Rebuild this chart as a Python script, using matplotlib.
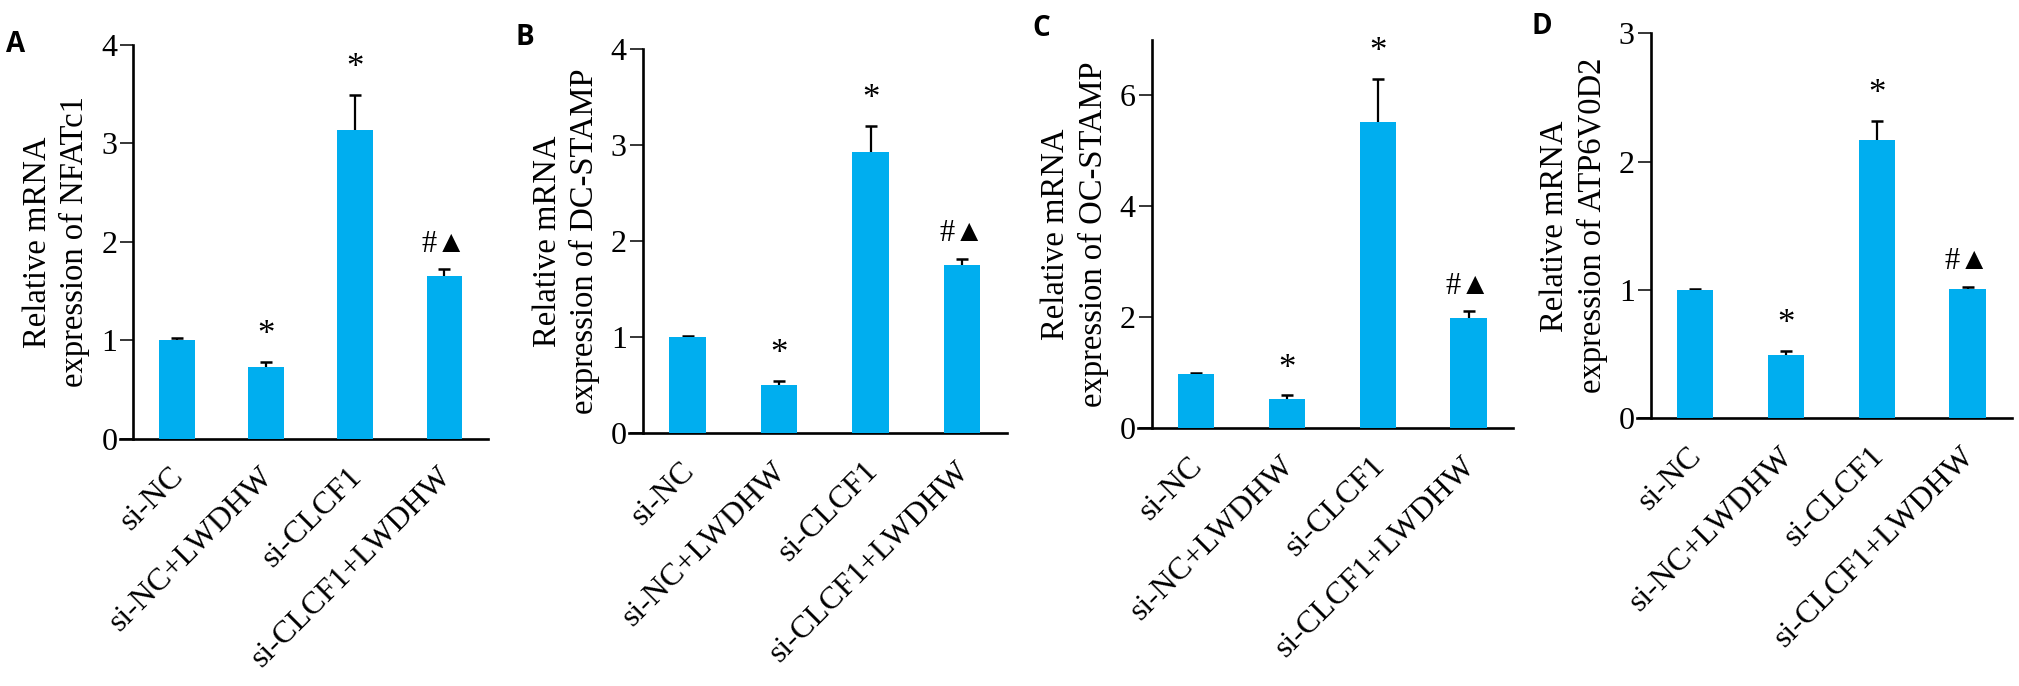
import matplotlib
matplotlib.use("Agg")
import matplotlib.pyplot as plt
import matplotlib.transforms as mtransforms
import numpy as np

BAR_BLUE = '#00AEEF'
SERIF = ['Liberation Serif', 'DejaVu Serif']
SYMBOLS = ['Liberation Serif', 'DejaVu Sans']

groups = ["si-NC", "si-NC+LWDHW", "si-CLCF1", "si-CLCF1+LWDHW"]
marks = ["", "*", "*", "#\u25B2"]

genes = ["NFATc1", "DC-STAMP", "OC-STAMP", "ATP6V0D2"]
panel_letters = ["A", "B", "C", "D"]

nfatc1 = [1.00, 0.73, 3.14, 1.65]
nfatc1_err = [0.02, 0.05, 0.35, 0.07]
dcstamp = [1.00, 0.50, 2.93, 1.75]
dcstamp_err = [0.01, 0.05, 0.27, 0.07]
ocstamp = [0.98, 0.53, 5.52, 1.99]
ocstamp_err = [0.02, 0.06, 0.78, 0.12]
atp6v0d2 = [1.00, 0.49, 2.17, 1.01]
atp6v0d2_err = [0.01, 0.035, 0.15, 0.015]

y_max = [4, 4, 7, 3]
y_ticks = [[0, 1, 2, 3, 4], [0, 1, 2, 3, 4], [0, 2, 4, 6], [0, 1, 2, 3]]

W, H = 2019, 686
# axes boxes in pixels: left, top, right, bottom
boxes = [(120, 45, 488, 438.7),
         (629, 49.3, 1007, 433.3),
         (1138, 40, 1513, 428.2),
         (1637, 33.3, 2012, 418.3)]
letter_pos = [(6, 30), (516, 23), (1032, 14), (1531, 12)]

values = [nfatc1, dcstamp, ocstamp, atp6v0d2]
errors = [nfatc1_err, dcstamp_err, ocstamp_err, atp6v0d2_err]

fig = plt.figure(figsize=(W / 100, H / 100), dpi=100)
label_shift = mtransforms.ScaledTranslation(2 / 72, 0, fig.dpi_scale_trans)

x = np.arange(len(groups))
for i in range(4):
    l, t, r, b = boxes[i]
    ax = fig.add_axes([l / W, 1 - b / H, (r - l) / W, (b - t) / H])
    ax.spines['top'].set_visible(False)
    ax.spines['right'].set_visible(False)
    ax.spines['left'].set_position(('data', -0.49))
    ax.spines['left'].set_linewidth(1.9)
    ax.spines['bottom'].set_linewidth(1.9)

    vals = values[i]
    errs = errors[i]
    # symmetric error bars drawn under the bars, so only the upper half shows
    ax.bar(x, vals, width=0.40, color=BAR_BLUE, zorder=3,
           yerr=errs, capsize=4.5,
           error_kw=dict(ecolor='black', elinewidth=1.6, capthick=1.8, zorder=2))
    for xi, v, e, m in zip(x, vals, errs, marks):
        if m == "*":
            ax.annotate(m, (xi, v + e), xytext=(0, 19), textcoords='offset points',
                        ha='center', va='center', fontsize=25, family=SYMBOLS)
        elif m:
            ax.annotate(m, (xi, v + e), xytext=(0, 18), textcoords='offset points',
                        ha='center', va='center', fontsize=22, family=SYMBOLS)

    ax.set_xlim(-0.64, 3.49)
    ax.set_ylim(0, y_max[i])
    ax.set_yticks(y_ticks[i])
    ax.set_xticks(x)
    ax.set_xticklabels(groups, rotation=45, ha='right', va='center',
                       rotation_mode='anchor')
    ax.tick_params(axis='x', length=0, pad=24, labelsize=23, labelfontfamily=SERIF)
    ax.tick_params(axis='y', length=9.5, width=1.1, pad=2, labelsize=23,
                   labelfontfamily=SERIF)
    for lab in ax.get_xticklabels():
        lab.set_transform(lab.get_transform() + label_shift)

    ax.set_ylabel("Relative mRNA\nexpression of " + genes[i], family=SERIF,
                  fontsize=23.5, linespacing=1.25, labelpad=8)

    lx, ly = letter_pos[i]
    fig.text(lx / W, 1 - ly / H, panel_letters[i], fontsize=20, fontweight='bold',
             family='Open Sans', ha='left', va='top')

fig.savefig("out.png", dpi=100)
